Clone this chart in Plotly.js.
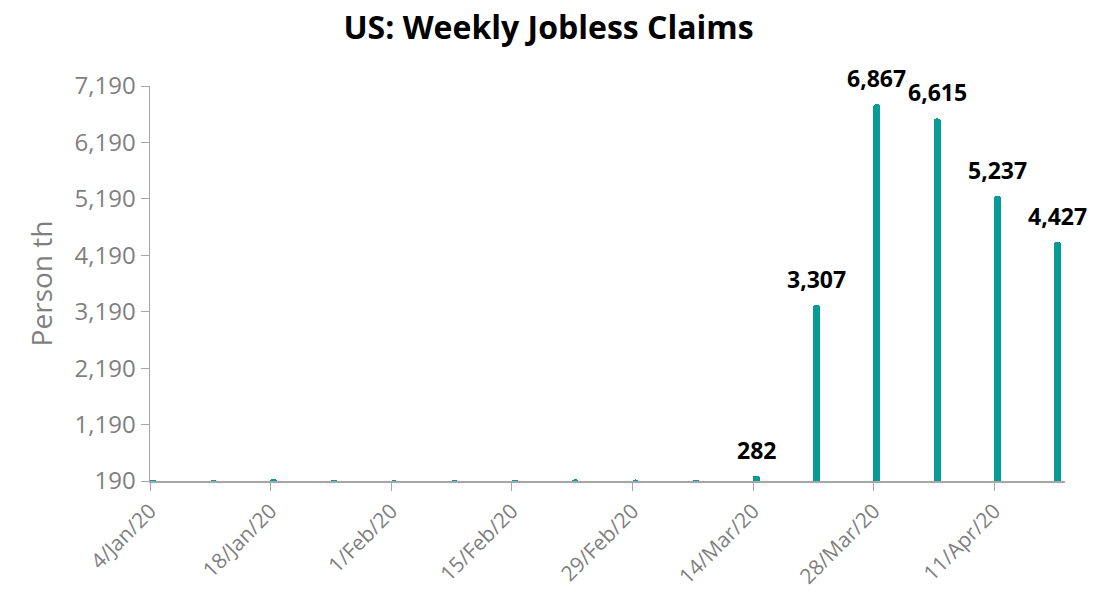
<!DOCTYPE html>
<html>
<head>
<meta charset="utf-8">
<script src="https://cdn.plot.ly/plotly-3.0.1.min.js"></script>
<style>html,body{margin:0;padding:0;background:#fff;}#chart{width:1097px;height:608px;}</style>
</head>
<body>
<div id="chart"></div>
<script>
const weeks = ["4/Jan/20","11/Jan/20","18/Jan/20","25/Jan/20","1/Feb/20","8/Feb/20","15/Feb/20","22/Feb/20","29/Feb/20","7/Mar/20","14/Mar/20","21/Mar/20","28/Mar/20","4/Apr/20","11/Apr/20","18/Apr/20"];
const claims = [214,207,223,216,202,205,211,220,217,211,282,3307,6867,6615,5237,4427];
const tickLabels = ["4/Jan/20","18/Jan/20","1/Feb/20","15/Feb/20","29/Feb/20","14/Mar/20","28/Mar/20","11/Apr/20"];
const yTicks = [190,1190,2190,3190,4190,5190,6190,7190];
const labelFrom = "14/Mar/20";

const startIdx = weeks.indexOf(labelFrom);
const xs = weeks.map((w,i)=>i);

const font = "'Open Sans', sans-serif";
const gray = "#7f7f7f";

const annotations = claims.map((v,i)=>({v,i})).filter(d=>d.i>=startIdx).map(d=>({
  x: xs[d.i], y: d.v, xref:'x', yref:'y',
  text: '<b>' + d.v.toLocaleString('en-US') + '</b>',
  showarrow:false, xanchor:'center', yanchor:'bottom', yshift:8,
  font:{family:font, size:23, color:'#000'}
}));

Plotly.newPlot('chart', [{
  type:'bar',
  x: xs,
  y: claims,
  width: 0.12,
  marker:{color:'#079b96', cornerradius:4},
  hoverinfo:'skip'
}], {
  width:1097, height:608,
  margin:{l:150, r:32, t:86, b:127},
  paper_bgcolor:'#fff', plot_bgcolor:'#fff',
  showlegend:false,
  title:{text:'<b>US: Weekly Jobless Claims</b>', x:0.5, xanchor:'center', y:0.955, yanchor:'middle',
         font:{family:font, size:32, color:'#000'}},
  annotations: annotations,
  xaxis:{
    range:[-0.05, 15.12],
    tickmode:'array',
    tickvals: tickLabels.map(t=>weeks.indexOf(t)-0.05),
    ticktext: tickLabels,
    tickangle:-45,
    ticks:'outside', ticklen:8, tickcolor:'#a6a6a6',
    showline:true, linecolor:'#a6a6a6', linewidth:1.5,
    showgrid:false, zeroline:false,
    tickfont:{family:font, size:21, color:gray}
  },
  yaxis:{
    range:[190,7190],
    tickmode:'array',
    tickvals: yTicks,
    ticktext: yTicks.map(v=>v.toLocaleString('en-US')),
    ticks:'outside', ticklen:8, tickcolor:'#a6a6a6',
    showline:true, linecolor:'#a6a6a6', linewidth:1.5,
    showgrid:false, zeroline:false,
    tickfont:{family:font, size:24, color:gray},
    title:{text:'Person th', font:{family:font, size:28, color:gray}, standoff:14}
  },
  bargap:0
}, {staticPlot:true});
</script>
</body>
</html>
